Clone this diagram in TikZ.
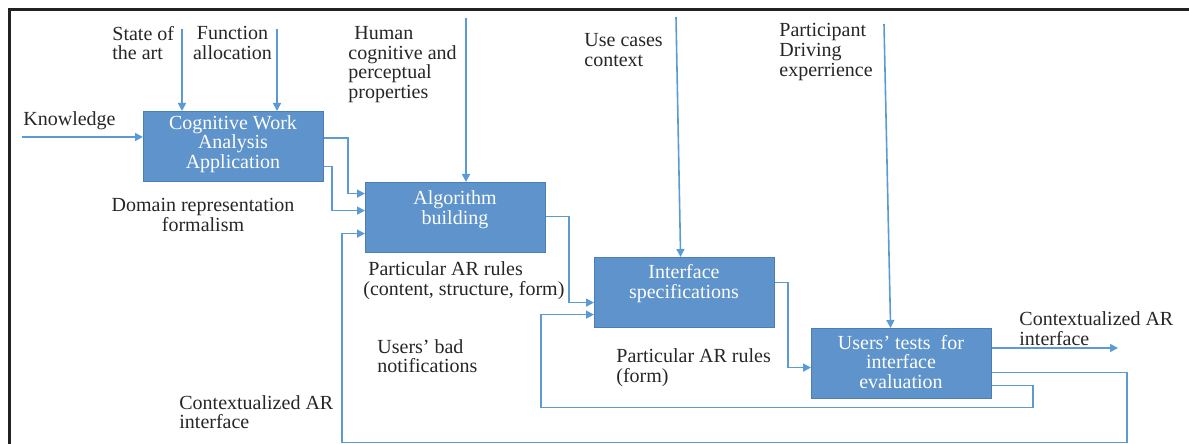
\documentclass[tikz,border=0pt]{standalone}
\usepackage{fontspec}
\setmainfont{Liberation Serif}
\usetikzlibrary{arrows.meta}
\definecolor{lineblue}{HTML}{5B9BD5}
\definecolor{boxfill}{HTML}{5E93CB}
\definecolor{boxedge}{HTML}{4A7EB5}
\definecolor{frame}{HTML}{222222}
\begin{document}
\begin{tikzpicture}[x=0.5pt,y=-0.5pt,
  box/.style={draw=boxedge, fill=boxfill, line width=0.6pt, minimum width=90pt, minimum height=35pt, anchor=north west, inner sep=0},
  boxtext/.style={text=white, align=center, font=\fontsize{10}{9.8}\selectfont, inner sep=0},
  lbl/.style={align=left, font=\fontsize{10}{9.8}\selectfont, inner sep=0, text=black!85},
  conn/.style={draw=lineblue, line width=0.8pt, -{Triangle[length=4pt,width=4pt]}},
]
\useasboundingbox (0,0) rectangle (1189,444);
% frame
\draw[line width=1.5pt, draw=frame] (9.5,444) -- (9.5,10) -- (1189,10);

% boxes
\node[box] (cwa) at (143,111) {};
\node[box] (alg) at (365,182) {};
\node[box] (ifs) at (594,257) {};
\node[box] (ut) at (811,328) {};
\node[boxtext] (cwat) at (233,144) {Cognitive Work\\Analysis\\Application};
\node[boxtext] (algt) at (455,209.5) {Algorithm\\building};
\node[boxtext] (ifst) at (684,283.5) {Interface\\specifications};
\node[boxtext] (utt) at (901,362) {Users' tests~ for\\interface\\evaluation};

% free ends
\coordinate (kn) at (22,137);
\coordinate (sa) at (182,29);
\coordinate (fa) at (277,29);
\coordinate (hu) at (466,18);
\coordinate (uc) at (676,17);
\coordinate (pd) at (884,24);
\coordinate (out) at (1118,348);

% inputs
\draw[conn] (kn) -- (kn -| cwa.west);
\draw[conn] (sa) -- (sa |- cwa.north);
\draw[conn] (fa) -- (fa |- cwa.north);
\draw[conn] (hu) -- (hu |- alg.north);
\draw[conn] (uc) -- ([xshift=-2pt]ifs.north);
\draw[conn] (pd) -- ([xshift=-5.5pt]ut.north);

% flow
\draw[conn] ([yshift=4.25pt]cwa.east) -- ++(24,0) |- ([yshift=12pt]alg.west);
\draw[conn] ([yshift=-10pt]cwa.east) -- ++(8,0) |- ([yshift=3.5pt]alg.west);
\draw[conn] ([yshift=0.5pt]alg.east) -- ++(23,0) |- ([yshift=-5pt]ifs.west);
\draw[conn] ([yshift=5pt]ifs.east) -- ++(13,0) |- ([yshift=-2pt]ut.west);
\draw[conn] (ut.east |- out) -- (out);

% feedback loops
\draw[conn] ([yshift=-4.5pt]ut.east) -- ++(135,0) -- ++(0,70) -| ([xshift=-11.5pt,yshift=-8pt]alg.west) -- ([yshift=-8pt]alg.west);
\draw[conn] ([yshift=-11pt]ut.east) -- ++(41,0) -- ++(0,22) -| ([xshift=-26.5pt,yshift=-11pt]ifs.west) -- ([yshift=-11pt]ifs.west);

% labels
\node[lbl] (kl) at (69.5,121) {Knowledge};
\node[lbl, anchor=west] (sal) at (112,43) {State of\\the art};
\node[lbl, align=center] (fal) at (232.5,43) {Function\\allocation};
\node[lbl, anchor=west] (hul) at (348,64.5) {\hspace*{3pt}Human\\cognitive and\\perceptual\\properties};
\node[lbl, anchor=west] (ucl) at (584,50) {Use cases\\context};
\node[lbl, anchor=west] (pdl) at (779,52) {Participant\\Driving\\experrience};
\node[lbl, align=center] (drl) at (203,215) {Domain representation\\formalism};
\node[lbl, anchor=west] (par1) at (363,280.5) {\hspace*{2.5pt}Particular AR rules\\(content, structure, form)};
\node[lbl, anchor=west] (ubn) at (377,356) {Users' bad\\notifications};
\node[lbl, anchor=west] (par2) at (616,367.5) {Particular AR rules\\(form)};
\node[lbl, anchor=west] (cai1) at (179,412) {Contextualized AR\\interface};
\node[lbl, anchor=west] (cai2) at (1019,328.5) {Contextualized AR\\interface};
\end{tikzpicture}
\end{document}
